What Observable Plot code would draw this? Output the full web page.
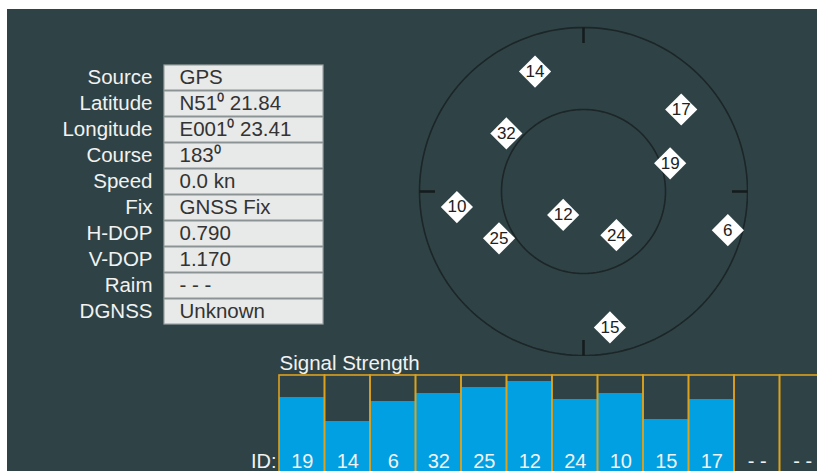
<!DOCTYPE html>
<html>
<head>
<meta charset="utf-8">
<script src="https://cdn.jsdelivr.net/npm/d3@7"></script>
<script src="https://cdn.jsdelivr.net/npm/@observablehq/plot@0.6"></script>
<style>
  html, body { margin: 0; padding: 0; background: #ffffff; width: 818px; height: 471px; overflow: hidden; }
  #panel { position: absolute; left: 7px; top: 9px; width: 810px; height: 462px; background: #2f4346; overflow: hidden;
           font-family: "Liberation Sans", Arial, sans-serif; }
  #panel > div { position: absolute; }
  #panel svg { max-width: none !important; display: block; }
</style>
</head>
<body>
<div id="panel">
  <div id="info" style="left:0px; top:40px; width:325px; height:290px;"></div>
  <div id="sky" style="left:411px; top:17px; width:330px; height:330px;"></div>
  <div id="bars" style="left:243px; top:331px; width:600px; height:135px;"></div>
</div>
<script>
// ---- Data ----
const infoLabels = ["Source", "Latitude", "Longitude", "Course", "Speed", "Fix", "H-DOP", "V-DOP", "Raim", "DGNSS"];
const infoValues = ["GPS", "N51\u2070 21.84", "E001\u2070 23.41", "183\u2070", "0.0 kn", "GNSS Fix", "0.790", "1.170", "- - -", "Unknown"];

const satIds = ["14", "17", "32", "19", "10", "12", "25", "24", "6", "15"];
const satAz  = [338, 50, 307, 72, 263, 221, 241, 143, 105, 169];   // degrees clockwise from north
const satEl  = [19, 20, 37, 40, 20, 73, 37, 60, 8, 14];             // degrees above horizon

const ringElevations = [0, 45];
const tickAzimuths = [0, 90, 180, 270];

const slotIds = ["19", "14", "6", "32", "25", "12", "24", "10", "15", "17", "- -", "- -"];
const slotSnr = [39, 27, 37, 41, 44, 47, 38, 41, 28, 38, null, null];

// ---- Styles ----
const textColor = "#f2f2f2";
const font = "'Liberation Sans', Arial, sans-serif";

// ---- Info table ----
const infoRows = infoLabels.map((label, i) => ({label, value: infoValues[i]}));
const info = Plot.plot({
  width: 325, height: 290,
  marginLeft: 157, marginRight: 9, marginTop: 11, marginBottom: 11,
  style: {background: "transparent", color: textColor, fontFamily: font, fontSize: "20px", maxWidth: "none"},
  x: {domain: [0, 1], axis: null},
  y: {domain: infoLabels, paddingInner: 0.05, paddingOuter: 0.02, axis: null},
  marks: [
    Plot.barX(infoRows, {y: "label", x1: 0, x2: 1, fill: "#e8e9e9", stroke: "#9ea3a3", strokeWidth: 1.2}),
    Plot.text(infoRows, {y: "label", x: 0, text: "value", dx: 15, dy: -1, textAnchor: "start", fill: "#333333", fontSize: 20.5}),
    Plot.axisY({tickSize: 0, tickPadding: 12, label: null, fontSize: 20.5, fill: textColor, dy: -1})
  ]
});
document.getElementById("info").append(info);

// ---- Sky plot ----
const sats = satIds.map((id, i) => ({id, az: satAz[i], el: satEl[i]}));
const sky = Plot.plot({
  width: 330, height: 330, margin: 1,
  style: {background: "transparent", fontFamily: font, maxWidth: "none"},
  projection: {
    type: "azimuthal-equidistant",
    rotate: [0, -90],
    domain: d3.geoCircle().center([0, 90]).radius(90)()
  },
  marks: [
    Plot.geo(ringElevations, {
      geometry: (el) => d3.geoCircle().center([0, 90]).radius(90 - el)(),
      fill: "none", stroke: "#1c2527", strokeWidth: 1.6
    }),
    Plot.link(tickAzimuths, {
      x1: (az) => 180 - az, y1: 0, x2: (az) => 180 - az, y2: 8.5,
      stroke: "#161c1d", strokeWidth: 2.6
    }),
    Plot.dot(sats, {x: (d) => 180 - d.az, y: "el", symbol: "diamond2", r: 14.5, fill: "#ffffff", stroke: "none"}),
    Plot.text(sats, {x: (d) => 180 - d.az, y: "el", text: "id", fill: "#222222", fontSize: 17})
  ]
});
document.getElementById("sky").append(sky);

// ---- Signal strength bars ----
const slots = slotIds.map((id, i) => ({i, id, v: slotSnr[i]}));
const bars = Plot.plot({
  width: 600, height: 135,
  marginLeft: 29, marginRight: 25, marginTop: 35, marginBottom: 0,
  style: {background: "transparent", fontFamily: font, maxWidth: "none"},
  x: {domain: d3.range(slotIds.length), padding: 0, round: false, axis: null},
  y: {domain: [0, 50], axis: null},
  marks: [
    Plot.barY(slots.filter((d) => d.v != null), {x: "i", y: "v", fill: "#00a0e2", inset: 0}),
    Plot.barY(slots, {x: "i", y1: 0, y2: 50, fill: "none", stroke: "#dca11d", strokeWidth: 1.6, inset: 0}),
    Plot.text(slots, {x: "i", text: "id", frameAnchor: "bottom", dy: -8, fill: textColor, fontSize: 20}),
    Plot.text(["ID:"], {frameAnchor: "bottom-left", textAnchor: "end", dx: -3, dy: -8, fill: textColor, fontSize: 20}),
    Plot.text(["Signal Strength"], {frameAnchor: "top-left", textAnchor: "start", dy: -20, fill: textColor, fontSize: 20.5})
  ]
});
document.getElementById("bars").append(bars);
</script>
</body>
</html>
